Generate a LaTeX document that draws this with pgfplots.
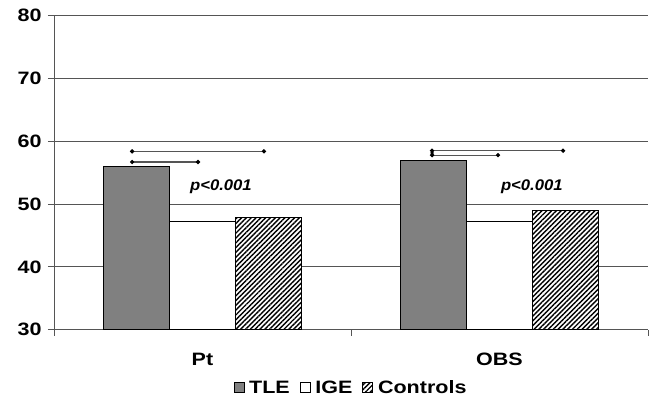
\documentclass[border=0pt]{standalone}
\usepackage{pgfplots}
\pgfplotsset{compat=1.18}
\usetikzlibrary{patterns.meta}
\usepackage{fontspec}
\setmainfont[FakeStretch=1.2]{Liberation Sans}
\newfontfamily\pfont[FakeStretch=1.08]{Liberation Sans}
\definecolor{tle}{HTML}{808080}
\definecolor{gridc}{HTML}{555555}
\begin{document}
\begin{tikzpicture}
\begin{axis}[
  scale only axis, width=594bp, height=314bp,
  xmin=0, xmax=2, ymin=30, ymax=80,
  ytick={30,40,...,80},
  xtick={0.5,1.5}, xticklabels={Pt,OBS},
  minor xtick={0,1,2},
  major x tick style={draw=none},
  minor x tick style={draw=gridc, line width=0.8pt},
  tick align=outside, major tick length=6bp, minor tick length=6bp,
  y tick style={draw=gridc, line width=0.8pt},
  axis x line*=bottom, axis y line*=left,
  axis line style={draw=gridc, line width=0.9pt, -},
  ymajorgrids, grid style={draw=gridc, line width=0.9pt},
  /pgf/number format/assume math mode=true,
  ticklabel style={font=\fontsize{18}{21}\selectfont\bfseries},
  yticklabel style={xshift=-3bp},
  xticklabel style={yshift=-14bp},
  legend style={at={(0.5,-0.185)}, anchor=center, legend columns=-1, draw=none,
    font=\fontsize{18}{21}\selectfont\bfseries, inner xsep=0pt,
    /tikz/every odd column/.append style={column sep=3bp},
    /tikz/every even column/.append style={column sep=8bp}},
  legend image code/.code={\draw[#1, line width=0.6pt] (0bp,-5bp) rectangle (10bp,5bp);},
  legend cell align=left,
]
\addplot[ybar, bar width=0.222, bar shift=-0.222, fill=tle, draw=black, line width=0.7pt]
  coordinates {(0.5,56.0) (1.5,56.9)};
\addlegendentry{TLE}
\addplot[ybar, bar width=0.222, bar shift=0, fill=white, draw=black, line width=0.7pt]
  coordinates {(0.5,47.2) (1.5,47.2)};
\addlegendentry{IGE}
\addplot[ybar, bar width=0.222, bar shift=0.222, fill=white, draw=black, line width=0.7pt,
  postaction={pattern={Lines[angle=45, distance=3.4bp, line width=1.4bp]}}]
  coordinates {(0.5,47.9) (1.5,49.0)};
\addlegendentry{Controls}
% significance brackets
\addplot[forget plot, draw=gridc, line width=1.2pt, mark=*, mark size=1.5pt, mark options={fill=black, draw=black}]
  coordinates {(0.263,58.4) (0.707,58.4)};
\addplot[forget plot, draw=gridc, line width=1.2pt, mark=*, mark size=1.5pt, mark options={fill=black, draw=black}]
  coordinates {(0.263,56.7) (0.485,56.7)};
\addplot[forget plot, draw=gridc, line width=1.2pt, mark=*, mark size=1.5pt, mark options={fill=black, draw=black}]
  coordinates {(1.273,58.5) (1.714,58.5)};
\addplot[forget plot, draw=gridc, line width=1.2pt, mark=*, mark size=1.5pt, mark options={fill=black, draw=black}]
  coordinates {(1.273,57.8) (1.495,57.8)};
\addplot[forget plot, only marks, mark=*, mark size=1.5pt, mark options={fill=black, draw=black}]
  coordinates {(1.273,58.15)};
\node[font=\fontsize{15.5}{18}\pfont\bfseries\itshape] at (axis cs:0.562,52.7) {p<0.001};
\node[font=\fontsize{15.5}{18}\pfont\bfseries\itshape] at (axis cs:1.609,52.7) {p<0.001};
\end{axis}
\pgfresetboundingbox
\path ([shift={(-54bp,-72bp)}]current axis.south west) rectangle ([shift={(3bp,15.7bp)}]current axis.north east);
\end{tikzpicture}
\end{document}
